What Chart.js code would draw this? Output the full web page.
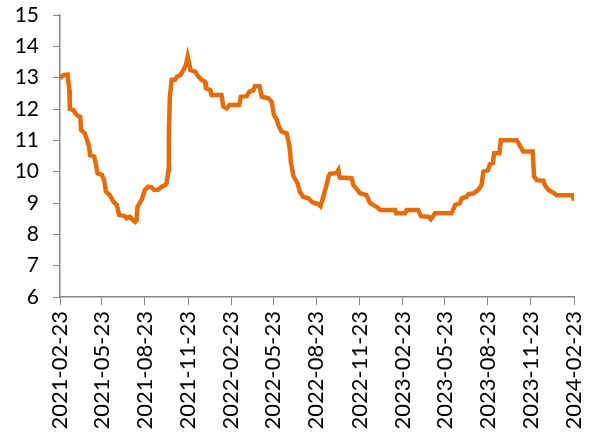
<!DOCTYPE html>
<html>
<head>
<meta charset="utf-8">
<script src="https://cdn.jsdelivr.net/npm/chart.js@4.4.1/dist/chart.umd.min.js"></script>
<style>
  body { margin: 0; background: #fff; }
</style>
</head>
<body>
<canvas id="grafica" width="591" height="432"></canvas>
<script>
// days counted from 2021-02-23
const dias = [
  0, 7, 16, 20, 21, 28, 36, 43, 45, 53, 58, 62, 64, 73, 76, 80, 89, 94, 98, 106,
  114, 121, 126, 138, 142, 149, 155, 160, 163, 165, 174, 181, 188, 195, 200, 209, 217, 224, 227, 231,
  232, 234, 238, 245, 249, 256, 263, 268, 272, 275, 278, 288, 295, 302, 309, 311, 320, 323, 344, 348,
  355, 361, 382, 385, 398, 403, 412, 415, 425, 430, 444, 451, 456, 462, 465, 472, 483, 489, 492, 497,
  506, 511, 518, 529, 536, 543, 550, 555, 561, 567, 572, 575, 589, 593, 596, 621, 625, 632, 639, 653,
  660, 667, 676, 682, 714, 716, 735, 739, 763, 769, 785, 790, 799, 834, 842, 852, 856, 866, 870, 881,
  891, 898, 902, 912, 916, 922, 925, 936, 939, 973, 981, 987, 1007, 1010, 1016, 1030, 1033, 1040, 1051, 1058,
  1092, 1095
];
const valores = [
  12.98, 13.08, 13.1, 12.6, 12.0, 11.97, 11.8, 11.75, 11.33, 11.22, 11.0, 10.8, 10.53, 10.48, 10.27, 9.95, 9.9, 9.73, 9.36, 9.25,
  9.04, 8.94, 8.62, 8.58, 8.51, 8.56, 8.46, 8.40, 8.45, 8.88, 9.1, 9.42, 9.52, 9.5, 9.42, 9.42, 9.52, 9.57, 9.63, 10.05,
  11.22, 12.39, 12.93, 12.93, 13.03, 13.08, 13.24, 13.4, 13.67, 13.46, 13.24, 13.19, 13.03, 12.93, 12.87, 12.66, 12.6, 12.45, 12.45, 12.07,
  12.02, 12.13, 12.13, 12.39, 12.41, 12.55, 12.6, 12.73, 12.73, 12.39, 12.34, 12.23, 11.8, 11.65, 11.49, 11.28, 11.22, 10.8, 10.3, 9.87,
  9.63, 9.36, 9.2, 9.15, 9.04, 8.99, 8.97, 8.9, 9.2, 9.52, 9.84, 9.93, 9.95, 10.05, 9.81, 9.79, 9.57, 9.45, 9.31, 9.25,
  9.01, 8.94, 8.86, 8.78, 8.78, 8.67, 8.67, 8.78, 8.78, 8.58, 8.56, 8.48, 8.67, 8.67, 8.94, 8.99, 9.15, 9.2, 9.28, 9.31,
  9.42, 9.57, 10.0, 10.05, 10.24, 10.27, 10.59, 10.59, 11.0, 11.0, 10.8, 10.64, 10.64, 9.84, 9.73, 9.71, 9.57, 9.42, 9.33, 9.25,
  9.25, 9.07
];

// x-axis ticks (days from 2021-02-23) and their labels
const tickDias = [0, 89, 181, 273, 365, 454, 546, 638, 730, 819, 911, 1003, 1095];
const tickEtiquetas = [
  '2021-02-23', '2021-05-23', '2021-08-23', '2021-11-23', '2022-02-23', '2022-05-23', '2022-08-23',
  '2022-11-23', '2023-02-23', '2023-05-23', '2023-08-23', '2023-11-23', '2024-02-23'
];

const gris = '#868686';

const puntos = dias.map((d, i) => ({ x: d, y: valores[i] }));

new Chart(document.getElementById('grafica'), {
  type: 'line',
  data: {
    datasets: [{
      data: puntos,
      borderColor: '#E46C0A',
      borderWidth: 4.5,
      pointRadius: 0,
      tension: 0,
      fill: false
    }]
  },
  options: {
    responsive: false,
    animation: false,
    layout: { padding: { top: 15, right: 17, left: 0, bottom: 0 } },
    plugins: { legend: { display: false }, tooltip: { enabled: false } },
    scales: {
      x: {
        type: 'linear',
        min: 0,
        max: 1095,
        afterBuildTicks: s => { s.ticks = tickDias.map(v => ({ value: v })); },
        afterFit: s => {
          s.height = 135;
          s.paddingLeft = 0; s.paddingRight = 0; s.paddingTop = 0; s.paddingBottom = 0;
        },
        ticks: {
          autoSkip: false,
          maxRotation: 90,
          minRotation: 90,
          padding: 6,
          color: '#000',
          font: { family: 'Lato, "Open Sans", sans-serif', size: 22 },
          callback: v => {
            const i = tickDias.indexOf(v);
            return i >= 0 ? tickEtiquetas[i] : '';
          }
        },
        grid: { drawOnChartArea: false, tickLength: 8, color: gris },
        border: { color: gris, width: 1.5 }
      },
      y: {
        min: 6,
        max: 15,
        afterFit: s => {
          s.width = 60;
          s.paddingLeft = 0; s.paddingRight = 0; s.paddingTop = 0; s.paddingBottom = 0;
        },
        ticks: { stepSize: 1, padding: 14, color: '#000', font: { family: 'Lato, "Open Sans", sans-serif', size: 21 } },
        grid: { drawOnChartArea: false, tickLength: 7, color: gris },
        border: { color: gris, width: 1.5 }
      }
    }
  }
});
</script>
</body>
</html>
